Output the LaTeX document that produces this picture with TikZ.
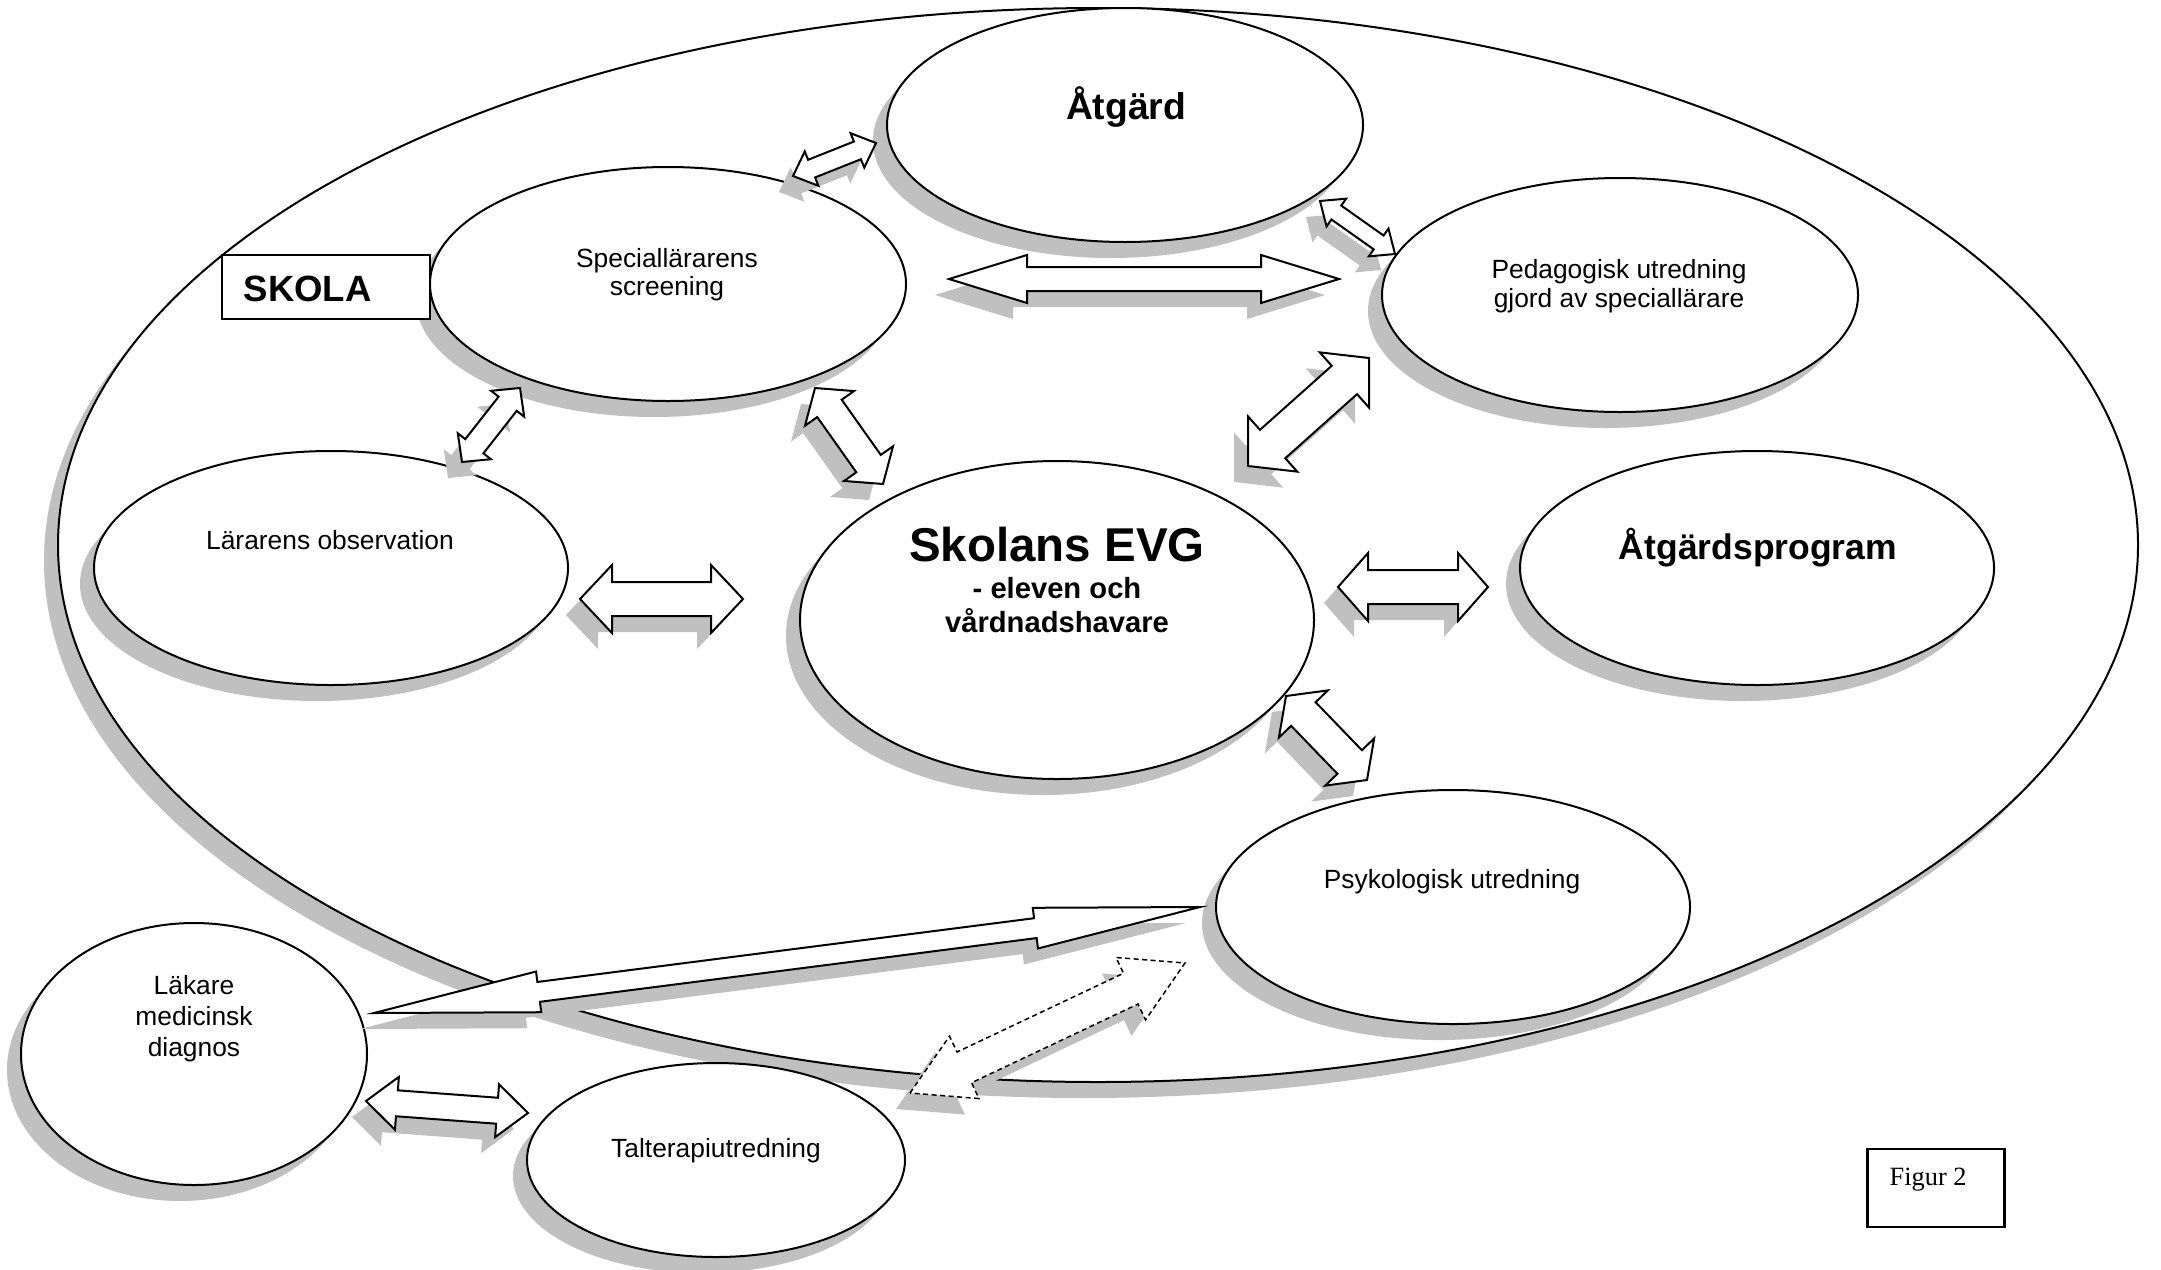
\documentclass[tikz,border=0pt]{standalone}
\usepackage{fontspec}
\setmainfont{Liberation Sans}
\newfontfamily\timesf{Liberation Serif}
\usetikzlibrary{calc,shapes.geometric,shadows}
\definecolor{shadowgray}{HTML}{C0C0C0}
\tikzset{
  ell/.style={ellipse, draw=black, fill=white, line width=0.2mm, inner sep=0pt,
    drop shadow={shadow xshift=-1.4mm, shadow yshift=-1.6mm, opacity=1, fill=shadowgray, draw=none}},
  reg/.style={anchor=base, inner sep=0pt, font=\fontsize{7.5}{9}\selectfont},
  boldlbl/.style={anchor=base, inner sep=0pt, font=\bfseries\fontsize{#1}{#1}\selectfont},
  boxed/.style={rectangle, draw=black, fill=white, line width=0.22mm, inner sep=0pt},
  arrowline/.style={fill=white, draw=black, line width=0.2mm, line join=miter},
  arrowshadow/.style={fill=shadowgray, draw=none},
  dashline/.style={dash pattern=on 0.5mm off 0.35mm, line width=0.15mm}
}
% polygon of a double block arrow from #2 to #3: head length #4, half head width #5, half shaft width #6
\newcommand\arrowpoly[6]{%
  \coordinate (P1) at ($(#2)!#4!(#3)$);
  \coordinate (P2) at ($(#3)!#4!(#2)$);
  \path[#1] (#2) -- ($(P1)!#5!90:(#3)$) -- ($(P1)!#6!90:(#3)$) -- ($(P2)!#6!-90:(#2)$)
    -- ($(P2)!#5!-90:(#2)$) -- (#3) -- ($(P2)!#5!90:(#2)$) -- ($(P2)!#6!90:(#2)$)
    -- ($(P1)!#6!-90:(#3)$) -- ($(P1)!#5!-90:(#3)$) -- cycle;
}
% #1 extra outline style, #2 name, #3 start, #4 end, #5 h, #6 H, #7 w
\newcommand\dblarrow[7][]{%
  \coordinate (#2a) at #3;
  \coordinate (#2b) at #4;
  \coordinate (#2sa) at ($(#2a)+(-14,16)$);
  \coordinate (#2sb) at ($(#2b)+(-14,16)$);
  \arrowpoly{arrowshadow}{#2sa}{#2sb}{#5}{#6}{#7}
  \arrowpoly{arrowline,#1}{#2a}{#2b}{#5}{#6}{#7}
}
\begin{document}
\begin{tikzpicture}[x=0.1mm,y=-0.1mm]
\useasboundingbox[fill=white] (0,0) rectangle (2161,1269);

% big school ellipse
\node[ell, minimum width=208mm, minimum height=107.4mm] (skola) at (1098,545) {};

% ellipses
\node[ell, minimum width=47.6mm, minimum height=23.4mm] (atg) at (1125,125) {};
\node[ell, minimum width=47.6mm, minimum height=23.4mm] (scr) at (668,284) {};
\node[ell, minimum width=47.6mm, minimum height=23.4mm] (ped) at (1620,295) {};
\node[ell, minimum width=47.4mm, minimum height=23.4mm] (lar) at (331,568) {};
\node[ell, minimum width=51.4mm, minimum height=31.8mm] (evg) at (1057,620) {};
\node[ell, minimum width=47.4mm, minimum height=23.4mm] (atp) at (1757,568) {};
\node[ell, minimum width=47.4mm, minimum height=23.4mm] (psy) at (1453,907) {};
\node[ell, minimum width=34.6mm, minimum height=26.2mm] (lak) at (194,1054) {};
\node[ell, minimum width=37.8mm, minimum height=19.4mm] (tal) at (716,1160) {};

% boxes
\node[boxed, minimum width=20.8mm, minimum height=6.4mm] (skolabox) at (326,287) {};
\node[boxed, minimum width=13.7mm, minimum height=7.8mm] (figbox) at (1936,1188) {};

% texts
\node[boldlbl=10.6] (tAtg) at (1126,119) {Åtgärd};
\node[reg] (tScr1) at (667,267) {Speciallärarens};
\node[reg] (tScr2) at (667,295) {screening};
\node[reg] (tPed1) at (1619,278) {Pedagogisk utredning};
\node[reg] (tPed2) at (1619,307) {gjord av speciallärare};
\node[reg] (tLar) at (330,549) {Lärarens observation};
\node[boldlbl=13.5] (tEvg1) at (1057,561) {Skolans EVG};
\node[boldlbl=8.3] (tEvg2) at (1057,598) {- eleven och};
\node[boldlbl=8.3] (tEvg3) at (1057,632) {vårdnadshavare};
\node[boldlbl=10.1] (tAtp) at (1758,559) {Åtgärdsprogram};
\node[reg] (tPsy) at (1452,888) {Psykologisk utredning};
\node[reg] (tLak1) at (194,994) {Läkare};
\node[reg] (tLak2) at (194,1025) {medicinsk};
\node[reg] (tLak3) at (194,1056) {diagnos};
\node[reg] (tTal) at (716,1157) {Talterapiutredning};
\node[boldlbl=10.4, anchor=base west] (tSkola) at (243,301) {SKOLA};
\node[anchor=base west, inner sep=0pt, font=\timesf\fontsize{7.5}{9}\selectfont] (tFig) at (1889,1185) {Figur 2};

% block arrows
\dblarrow{ar1}{(949,279)}{(1339,279)}{7.8mm}{2.4mm}{1.2mm}
\dblarrow{ar2}{(793,176)}{(876,143)}{2.0mm}{1.85mm}{0.95mm}
\dblarrow{ar3}{(1320,201)}{(1395,254)}{2.0mm}{1.7mm}{0.85mm}
\dblarrow{ar4}{(462,462)}{(520,388)}{2.0mm}{2.1mm}{1.15mm}
\dblarrow{ar5}{(815,388)}{(883,484)}{2.5mm}{3.0mm}{1.5mm}
\dblarrow{ar6}{(1248,466)}{(1369,358)}{3.3mm}{3.7mm}{1.9mm}
\dblarrow{ar7}{(580,599)}{(743,599)}{3.2mm}{3.4mm}{1.7mm}
\dblarrow{ar8}{(1338,587)}{(1488,587)}{3.0mm}{3.4mm}{1.7mm}
\dblarrow{ar9}{(1286,696)}{(1367,780)}{2.5mm}{3.4mm}{1.7mm}
\dblarrow{ar10}{(374,1013)}{(1200,907)}{16.6mm}{2.05mm}{1.0mm}
\dblarrow[dashline]{ar11}{(910,1093)}{(1185,963)}{6.0mm}{3.45mm}{1.7mm}
\dblarrow{ar12}{(366,1101)}{(528,1113)}{3.1mm}{2.65mm}{1.3mm}
\end{tikzpicture}
\end{document}
